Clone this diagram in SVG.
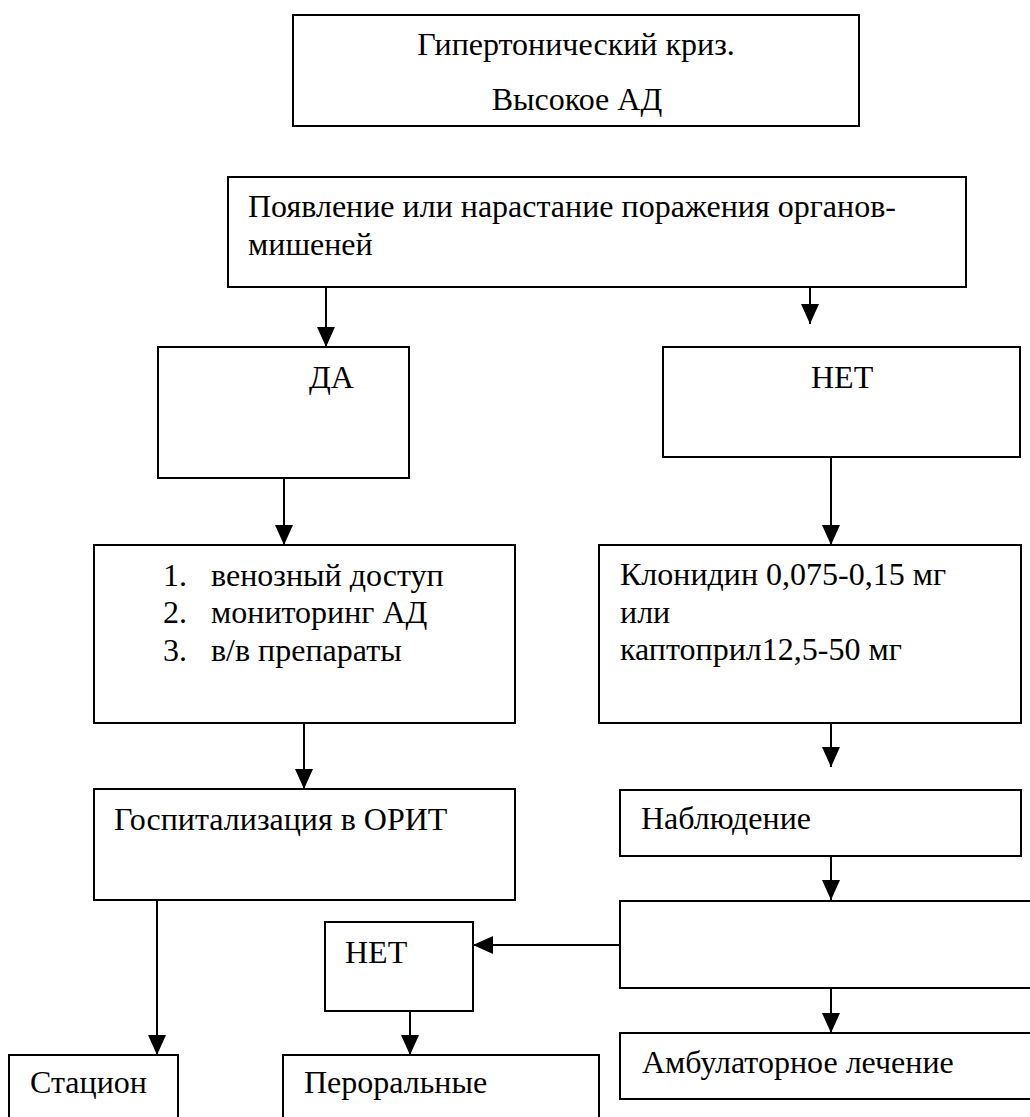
<svg xmlns="http://www.w3.org/2000/svg" width="1030" height="1117" viewBox="0 0 1030 1117" font-family="'Liberation Serif', Tinos, 'Times New Roman', 'DejaVu Serif', serif">
  <defs>
    <style>
      .box { fill: #ffffff; stroke: #000000; stroke-width: 2; }
      .t { font-family: 'Liberation Serif', Tinos, 'Times New Roman', 'DejaVu Serif', serif; font-size: 32px; fill: #000000; }
      .c { text-anchor: middle; }
      .ln { stroke: #000000; stroke-width: 2; fill: none; marker-end: url(#ah); }
    </style>
    <marker id="ah" markerUnits="userSpaceOnUse" markerWidth="20" markerHeight="18" refX="20" refY="9" orient="auto" viewBox="0 0 20 18">
      <path d="M0,0 L20,9 L0,18 Z" fill="#000000"/>
    </marker>
  </defs>
  <rect width="1030" height="1117" fill="#ffffff"/>

  <g id="connectors">
    <line class="ln" x1="326" y1="281" x2="326" y2="347"/>
    <line class="ln" x1="810" y1="281" x2="810" y2="324"/>
    <line class="ln" x1="284" y1="479" x2="284" y2="545"/>
    <line class="ln" x1="831" y1="457" x2="831" y2="545"/>
    <line class="ln" x1="304" y1="723" x2="304" y2="789"/>
    <line class="ln" x1="831" y1="723" x2="831" y2="767"/>
    <line class="ln" x1="831" y1="856" x2="831" y2="900"/>
    <line class="ln" x1="620" y1="945" x2="473" y2="945"/>
    <line class="ln" x1="831" y1="988" x2="831" y2="1033"/>
    <line class="ln" x1="157" y1="900" x2="157" y2="1055"/>
    <line class="ln" x1="410" y1="1011" x2="410" y2="1055"/>
  </g>

  <g id="n-crisis">
    <rect class="box" x="293" y="15" width="566" height="111"/>
    <text class="t c" x="576" y="55">Гипертонический криз.</text>
    <text class="t c" x="577" y="110">Высокое АД</text>
  </g>

  <g id="n-organs">
    <rect class="box" x="228" y="177" width="738" height="110"/>
    <text class="t" x="248" y="217">Появление или нарастание поражения органов-</text>
    <text class="t" x="248" y="255">мишеней</text>
  </g>

  <g id="n-yes">
    <rect class="box" x="158" y="347" width="251" height="131"/>
    <text class="t" x="309" y="388">ДА</text>
  </g>

  <g id="n-no">
    <rect class="box" x="663" y="347" width="357" height="110"/>
    <text class="t" x="811" y="388">НЕТ</text>
  </g>

  <g id="n-steps">
    <rect class="box" x="94" y="545" width="421" height="178"/>
    <text class="t" x="163" y="586">1.</text>
    <text class="t" x="211" y="586">венозный доступ</text>
    <text class="t" x="163" y="623">2.</text>
    <text class="t" x="211" y="623">мониторинг АД</text>
    <text class="t" x="163" y="661">3.</text>
    <text class="t" x="211" y="661">в/в препараты</text>
  </g>

  <g id="n-drugs">
    <rect class="box" x="599" y="545" width="422" height="178"/>
    <text class="t" x="620" y="585">Клонидин 0,075-0,15 мг</text>
    <text class="t" x="620" y="623">или</text>
    <text class="t" x="620" y="660">каптоприл12,5-50 мг</text>
  </g>

  <g id="n-icu">
    <rect class="box" x="94" y="789" width="421" height="111"/>
    <text class="t" x="114" y="830">Госпитализация в ОРИТ</text>
  </g>

  <g id="n-observe">
    <rect class="box" x="620" y="790" width="401" height="66"/>
    <text class="t" x="641" y="829">Наблюдение</text>
  </g>

  <g id="n-empty">
    <rect class="box" x="620" y="901" width="420" height="87"/>
  </g>

  <g id="n-no2">
    <rect class="box" x="325" y="922" width="148" height="89"/>
    <text class="t" x="345" y="963">НЕТ</text>
  </g>

  <g id="n-station">
    <rect class="box" x="9" y="1055" width="169" height="80"/>
    <text class="t" x="30" y="1093">Стацион</text>
  </g>

  <g id="n-oral">
    <rect class="box" x="283" y="1055" width="316" height="80"/>
    <text class="t" x="304" y="1093">Пероральные</text>
  </g>

  <g id="n-outpatient">
    <rect class="box" x="620" y="1033" width="420" height="66"/>
    <text class="t" x="642" y="1073">Амбулаторное лечение</text>
  </g>
</svg>
